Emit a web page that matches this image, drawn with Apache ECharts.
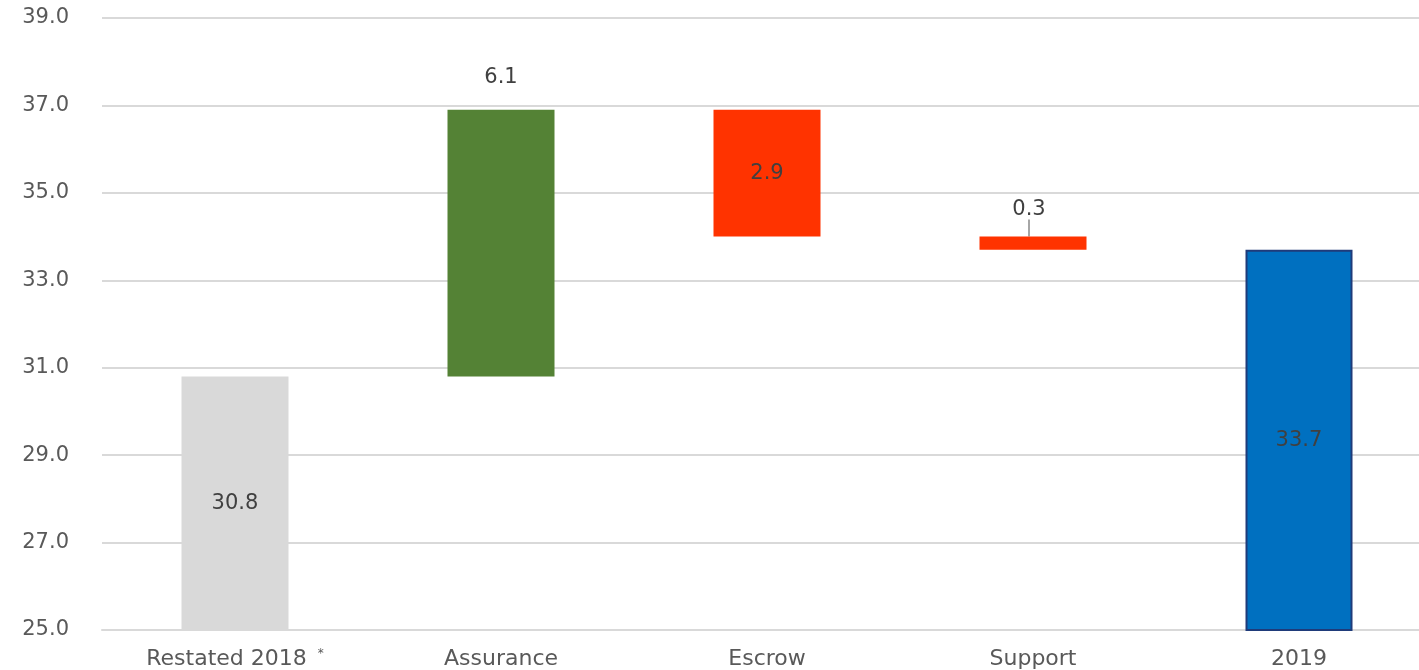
<!DOCTYPE html>
<html>
<head>
<meta charset="utf-8">
<title>Waterfall 2018 - 2019</title>
<script src="https://cdn.jsdelivr.net/npm/echarts@6/dist/echarts.min.js"></script>
<style>
  html, body { margin: 0; padding: 0; background: #ffffff; overflow: hidden; }
  #wrap { width: 1419px; height: 670px; overflow: hidden; }
  #chart { width: 1432px; height: 670px; }
</style>
</head>
<body>
<div id="wrap"><div id="chart"></div></div>
<script>
// Bridge from the restated 2018 total to the 2019 total
const categories = ['Restated 2018', 'Assurance', 'Escrow', 'Support', '2019'];
const startTotal = 30.8;            // Restated 2018
const changes = [6.1, -2.9, -0.3];  // Assurance, Escrow, Support
const endTotal = 33.7;              // 2019
const yTicks = { min: 25, max: 39, interval: 2 };

const colors = {
  start: '#d9d9d9',
  up: '#548235',
  down: '#ff3300',
  end: '#0070c0',
  endBorder: '#1f3b7a'
};

// Floating bars: each change sits on the running total
const totals = [startTotal, '-', '-', '-', endTotal];
const bases = ['-'];
const deltas = ['-'];
let running = startTotal;
changes.forEach(function (c) {
  const next = running + c;
  bases.push(+Math.min(running, next).toFixed(2));
  deltas.push(Math.abs(c));
  running = next;
});
bases.push('-');
deltas.push('-');

const labelFont = { fontFamily: 'DejaVu Sans', fontSize: 21, color: '#404040' };

const deltaData = deltas.map(function (v, i) {
  if (v === '-') return '-';
  const c = changes[i - 1];
  const item = { value: v, itemStyle: { color: c >= 0 ? colors.up : colors.down } };
  if (v < 1) {
    item.label = { position: 'top', distance: 4 };
    item.labelLine = { show: true, lineStyle: { color: '#a6a6a6', width: 2 } };
  } else if (c >= 0) {
    item.label = { position: 'top', distance: 22 };
  } else {
    item.label = { position: 'inside' };
  }
  return item;
});

const totalData = totals.map(function (v, i) {
  if (v === '-') return '-';
  if (i === 0) return { value: v, itemStyle: { color: colors.start } };
  return { value: v, itemStyle: { color: colors.end, borderColor: colors.endBorder, borderWidth: 2 } };
});

const chart = echarts.init(document.getElementById('chart'), null, { renderer: 'canvas' });
chart.setOption({
  animation: false,
  backgroundColor: '#ffffff',
  grid: { left: 102, top: 18, bottom: 39, right: 0, containLabel: false },
  xAxis: {
    type: 'category',
    data: categories,
    axisLine: { show: true, lineStyle: { color: '#d9d9d9', width: 2 } },
    axisTick: { show: false },
    axisLabel: {
      interval: 0,
      margin: 18,
      fontFamily: 'DejaVu Sans',
      fontSize: 22,
      color: '#595959',
      formatter: function (v, i) { return i === 0 ? v + ' {sup|*}' : v; },
      rich: { sup: { fontSize: 12, color: '#595959', verticalAlign: 'top', padding: [0, 0, 10, 4] } }
    }
  },
  yAxis: {
    type: 'value',
    min: yTicks.min,
    max: yTicks.max,
    interval: yTicks.interval,
    axisLine: { show: false },
    axisTick: { show: false },
    splitLine: { lineStyle: { color: '#d9d9d9', width: 2 } },
    axisLabel: {
      margin: 33,
      fontFamily: 'DejaVu Sans',
      fontSize: 21,
      color: '#595959',
      formatter: function (v) { return v.toFixed(1); }
    }
  },
  series: [
    {
      name: 'Total',
      type: 'bar',
      barWidth: 107,
      barGap: '-100%',
      data: totalData,
      label: Object.assign({ show: true, position: 'inside', formatter: function (p) { return p.value.toFixed(1); } }, labelFont)
    },
    {
      name: 'Base',
      type: 'bar',
      stack: 'bridge',
      barWidth: 107,
      barGap: '-100%',
      itemStyle: { color: 'transparent' },
      emphasis: { disabled: true },
      data: bases
    },
    {
      name: 'Change',
      type: 'bar',
      stack: 'bridge',
      barWidth: 107,
      barGap: '-100%',
      data: deltaData,
      label: Object.assign({ show: true, formatter: function (p) { return p.value.toFixed(1); } }, labelFont),
      labelLayout: function (params) {
        return deltas[params.dataIndex] < 1 ? { dx: -4, dy: -13 } : {};
      }
    }
  ]
});
</script>
</body>
</html>
